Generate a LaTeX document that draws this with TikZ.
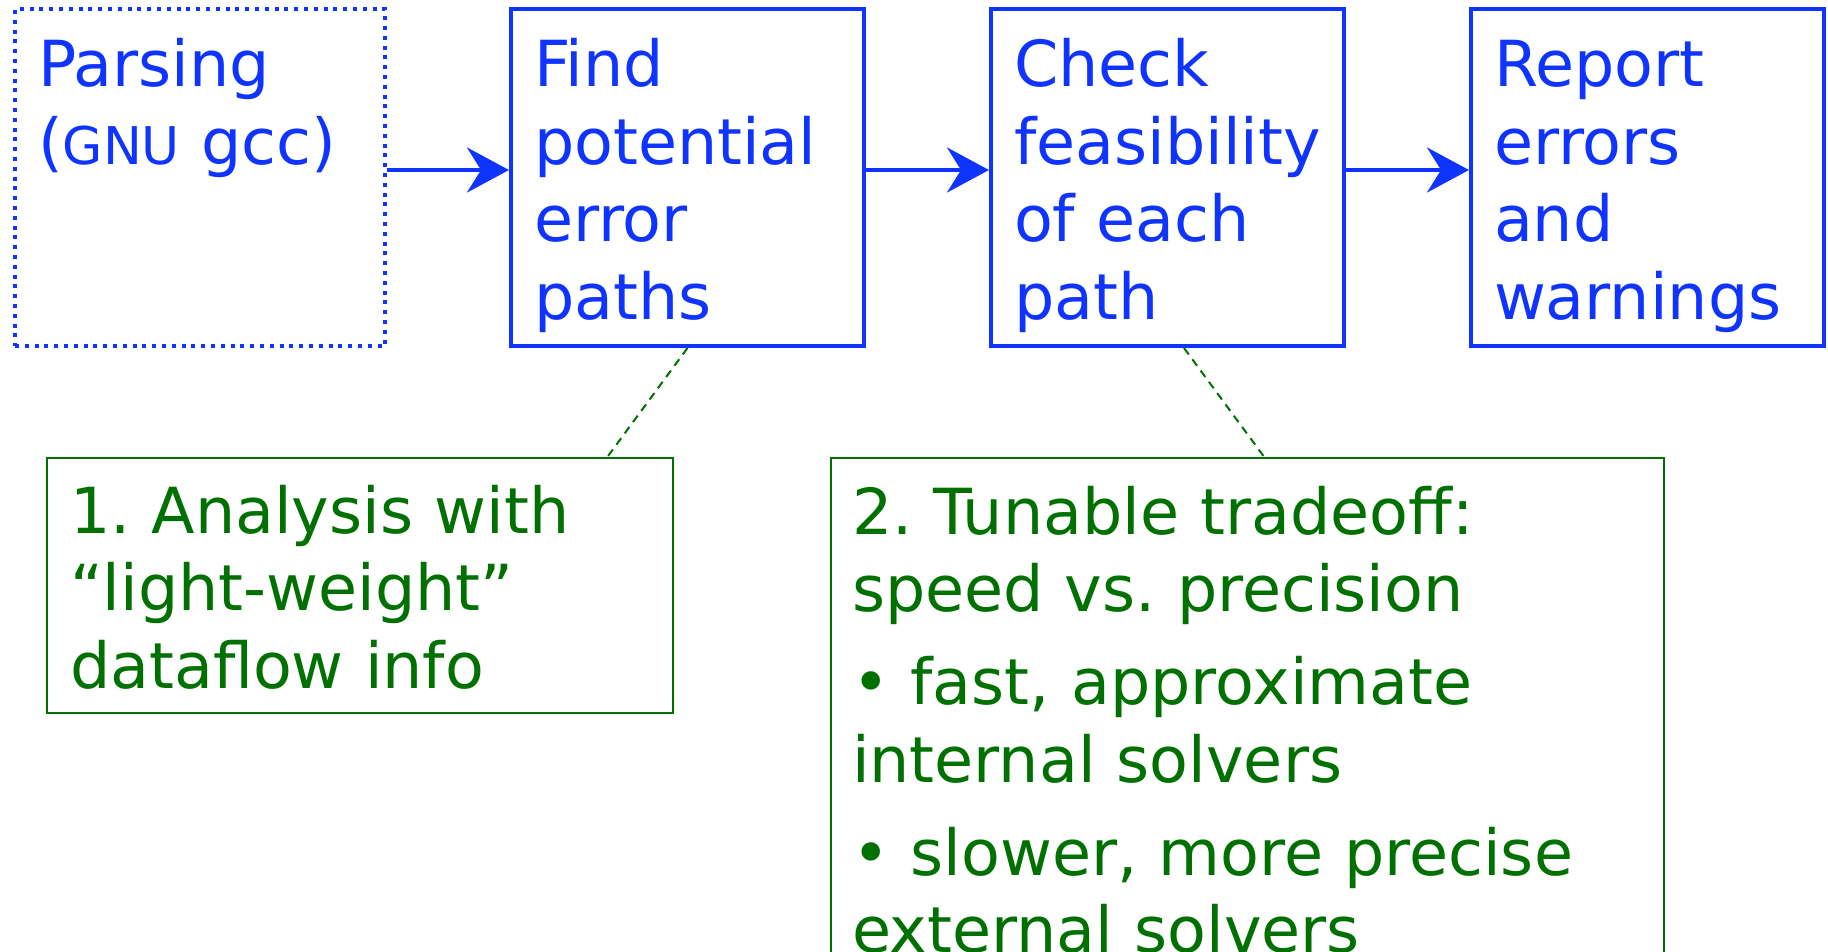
\documentclass[tikz,border=0pt]{standalone}
\usepackage{fontspec}
\setmainfont{DejaVu Sans}
\usetikzlibrary{arrows.meta}
\definecolor{myblue}{RGB}{16,52,255}
\definecolor{mygreen}{RGB}{0,112,0}
\frenchspacing
\begin{document}
\begin{tikzpicture}[x=1pt,y=-1pt,
  txt/.style={font=\frenchspacing\fontsize{63.5}{77.5}\selectfont, align=left, anchor=north west, inner ysep=0pt},
  bluebox/.style={txt, draw=myblue, text=myblue, line width=4pt, inner xsep=23pt, text height=78pt, text depth=259pt},
  dotbox/.style={bluebox, dash pattern=on 4pt off 5.8pt},
  greenbox/.style={txt, draw=mygreen, text=mygreen, line width=2.5pt},
  flow/.style={draw=myblue, line width=4pt, -{Stealth[length=42pt,width=45pt,inset=14pt]}},
  link/.style={draw=mygreen, line width=2pt, dash pattern=on 8pt off 6pt}
]
\useasboundingbox (0,0) rectangle (1828,952);
\clip (0,0) rectangle (1828,952);

\node[dotbox, text width=324pt] (parse) at (13,7) {Parsing\\({\fontsize{52}{77.5}\selectfont GNU} gcc)};
\node[bluebox, text width=307pt] (find) at (509,7) {Find\\potential\\error\\paths};
\node[bluebox, text width=307pt] (check) at (989,7) {Check\\feasibility\\of each\\path};
\node[bluebox, text width=307pt] (report) at (1469,7) {Report\\errors\\and\\warnings};

\node[greenbox, inner xsep=23pt, text width=580pt, text height=75pt, text depth=180pt] (g1) at (45.75,456.75)
  {1. Analysis with\\“light-weight”\\dataflow info};
\node[greenbox, inner xsep=21pt, text width=791pt, text height=76pt, text depth=466pt] (g2) at (829.75,456.75)
  {2. Tunable tradeoff:\\speed vs. precision\\[15.5pt]• fast, approximate\\internal solvers\\[15.5pt]• slower, more precise\\external solvers};

\draw[flow] ([yshift=7.5pt]parse.east) -- ([yshift=7.5pt]find.west);
\draw[flow] ([yshift=7.5pt]find.east) -- ([yshift=7.5pt]check.west);
\draw[flow] ([yshift=7.5pt]check.east) -- ([yshift=7.5pt]report.west);

\draw[link] (find.south) -- ([xshift=247.5pt]g1.north);
\draw[link] ([xshift=16.5pt]check.south) -- ([xshift=16.5pt]g2.north);
\end{tikzpicture}
\end{document}
